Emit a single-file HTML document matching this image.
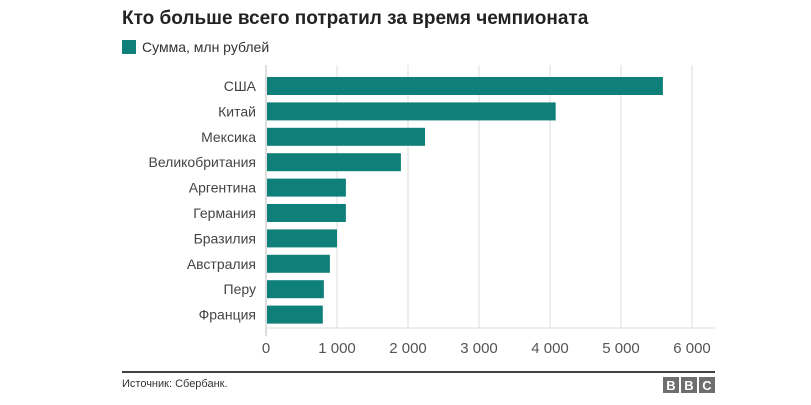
<!DOCTYPE html>
<html><head><meta charset="utf-8"><style>
body{margin:0;background:#fff;font-family:"Liberation Sans",Arial,sans-serif;}
</style></head><body>
<svg id="chart" width="811" height="400" xmlns="http://www.w3.org/2000/svg">
<text x="122" y="24" font-size="19" font-weight="bold" fill="#222">Кто больше всего потратил за время чемпионата</text>
<rect x="122" y="40" width="14" height="14" fill="#0f7f7a"/>
<text x="142" y="52" font-size="14" fill="#333">Сумма, млн рублей</text>
<g id="grid"></g><g id="bars"></g><g id="labels"></g><g id="ticks"></g>
<line x1="122" y1="372" x2="715" y2="372" stroke="#000" stroke-width="1.5"/>
<text x="122" y="387" font-size="11" fill="#333">Источник: Сбербанк.</text>
<g>
<rect x="663" y="377" width="16" height="16" fill="#6e6e6e"/><rect x="681" y="377" width="16" height="16" fill="#6e6e6e"/><rect x="699" y="377" width="16" height="16" fill="#6e6e6e"/>
<text x="671" y="390" font-size="13" font-weight="bold" fill="#fff" text-anchor="middle">B</text>
<text x="689" y="390" font-size="13" font-weight="bold" fill="#fff" text-anchor="middle">B</text>
<text x="707" y="390" font-size="13" font-weight="bold" fill="#fff" text-anchor="middle">C</text>
</g>
</svg>
<script>
const categories=["США","Китай","Мексика","Великобритания","Аргентина","Германия","Бразилия","Австралия","Перу","Франция"];
const values=[5590,4080,2240,1900,1125,1125,1000,900,815,800];
const tickValues=[0,1000,2000,3000,4000,5000,6000];
const tickLabels=["0","1 000","2 000","3 000","4 000","5 000","6 000"];
const NS="http://www.w3.org/2000/svg";
const x0=266,pxPer=0.071,yTop=74,step=25.4,barH=18;
const xs=v=>x0+v*pxPer;
const ys=i=>yTop+i*step;
function mk(t,a,p){const e=document.createElementNS(NS,t);for(const k in a)e.setAttribute(k,a[k]);p.appendChild(e);return e;}
const grid=document.getElementById('grid'),bars=document.getElementById('bars'),labels=document.getElementById('labels'),ticks=document.getElementById('ticks');
tickValues.forEach((v,i)=>{
 const l=mk('line',{x1:xs(v),x2:xs(v),y1:65,y2:i==0?336:328,stroke:i==0?'#bbb':'#ddd','stroke-width':1},grid);
 
 
 const t=mk('text',{x:xs(v),y:353,'font-size':15,fill:'#555','text-anchor':'middle'},ticks);
 t.textContent=tickLabels[i];
 
 
});
const base=mk('line',{x1:x0,x2:715,y1:328,y2:328,stroke:'#ddd','stroke-width':1},grid);


categories.forEach((c,i)=>{
 const r=mk('rect',{x:x0+1,y:ys(i)+3,width:xs(values[i])-x0-1,height:barH,fill:'#0f7f7a'},bars);
 
 
 const t=mk('text',{x:256,y:ys(i)+17,'font-size':14,fill:'#444','text-anchor':'end'},labels);
 t.textContent=c;
 
 
});
</script>
</body></html>
